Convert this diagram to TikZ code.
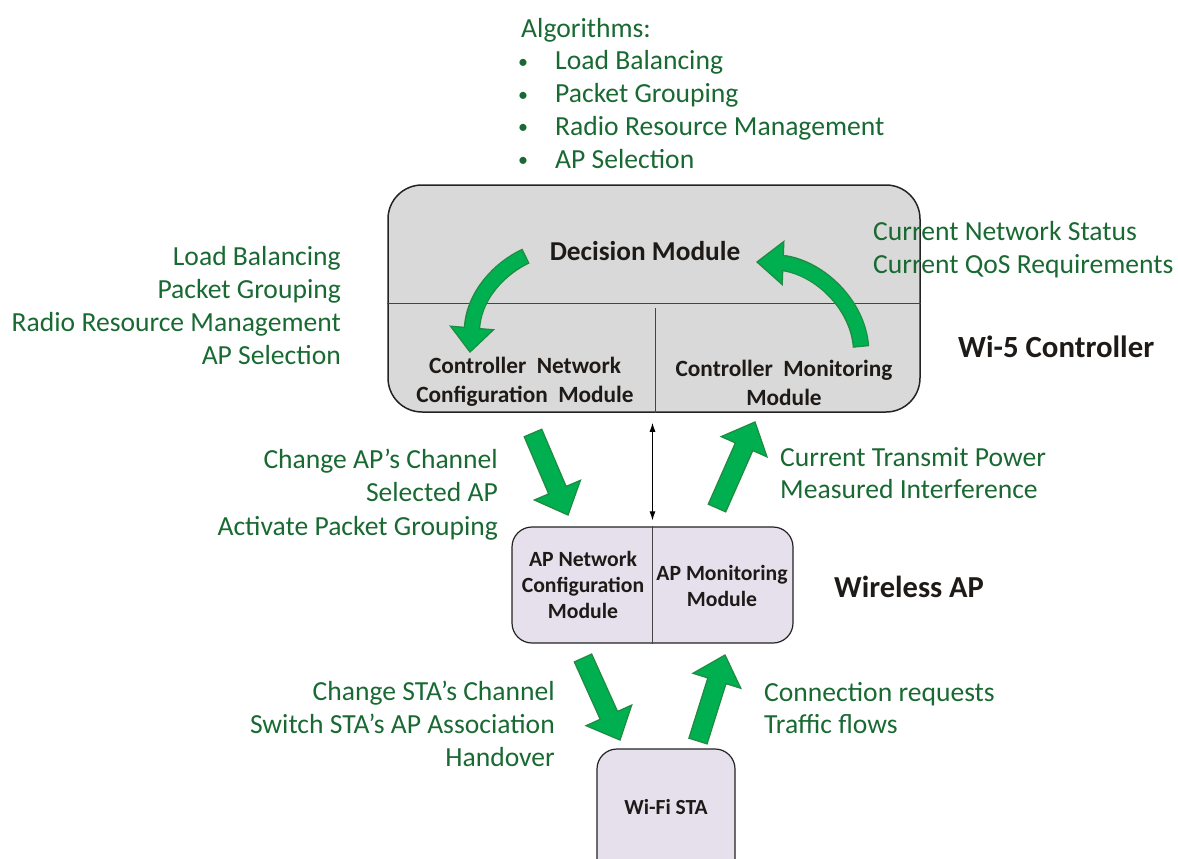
\documentclass[tikz,border=0pt]{standalone}
\usepackage{fontspec}
\setmainfont{Carlito}
\usepackage{tikz}
\usetikzlibrary{arrows, arrows.meta, positioning, calc}

\definecolor{txtgreen}{RGB}{25,105,50}
\definecolor{arrowgreen}{RGB}{0,176,80}
\definecolor{arrowedge}{RGB}{30,140,65}
\definecolor{ctrlgray}{RGB}{217,217,217}
\definecolor{aplilac}{RGB}{229,224,236}
\definecolor{boxline}{RGB}{35,35,35}
\definecolor{labelblack}{RGB}{30,26,23}

\tikzset{
  greentext/.style={text=txtgreen, font=\fontsize{27.6}{32}\selectfont, inner sep=0pt},
  modtext/.style={text=labelblack, inner sep=0pt, align=center},
  ctrlbox/.style={draw=boxline, line width=1.5pt, fill=ctrlgray, rounded corners=34pt, inner sep=0pt},
  apbox/.style={draw=boxline, line width=1.2pt, fill=aplilac, rounded corners=20pt, inner sep=0pt},
  divline/.style={draw=boxline!85, line width=1pt},
  greenblock/.style={fill=arrowgreen, draw=arrowedge, line width=1.3pt, line join=miter},
  linkarrow/.style={line width=1pt, {Latex[length=9pt,width=6pt]}-{Latex[length=9pt,width=6pt]}},
}

% straight block arrow: #1 tail, #2 tip
\newcommand{\blockarrow}[2]{%
  \filldraw[greenblock]
    ($#1!9.5pt!90:#2$) -- ($#2!28.62pt!-19.38:#1$) -- ($#2!36.8pt!-42.8:#1$)
    -- #2 -- ($#2!36.8pt!42.8:#1$) -- ($#2!28.62pt!19.38:#1$)
    -- ($#1!9.5pt!-90:#2$) -- cycle;
}

\begin{document}
\begin{tikzpicture}[x=1pt, y=-1pt]
\clip (0,0) rectangle (1178,859);

% Wi-5 controller
\node[ctrlbox, minimum width=532pt, minimum height=227pt] (ctrl) at (654,298.5) {};
\draw[divline] (ctrl.west |- 0,303) -- (ctrl.east |- 0,303);
\draw[divline] (655,308) -- (ctrl.south -| 655,0);
\node[modtext, anchor=base, font=\bfseries\fontsize{27.3}{30}\selectfont] (decision) at (645,260) {Decision Module};
\node[modtext, font=\bfseries\fontsize{23.3}{28.5}\selectfont] (ctrlcfg) at (525,382) {Controller~ Network\\Configuration~ Module};
\node[modtext, font=\bfseries\fontsize{23.3}{28.5}\selectfont] (ctrlmon) at (784,383) {Controller~ Monitoring\\Module};
\node[modtext, anchor=base west, font=\bfseries\fontsize{30.8}{34}\selectfont] (ctrlname) at (958,357) {Wi-5 Controller};

% curved arrows inside the controller
\coordinate (lhbase) at (472,328);
\coordinate (lhtip) at (470,352);
\draw[arrowedge, line width=16.5pt] (526,256) .. controls (500,268) and (474,295) .. (lhbase);
\filldraw[greenblock] ($(lhbase)!21.5pt!90:(lhtip)$) -- (lhtip) -- ($(lhbase)!21.5pt!-90:(lhtip)$) -- cycle;
\draw[arrowgreen, line width=13.8pt, shorten <=1.3pt, shorten >=-2pt] (526,256) .. controls (500,268) and (474,295) .. (lhbase);

\coordinate (rhbase) at (783,263);
\coordinate (rhtip) at (757,262);
\draw[arrowedge, line width=16.5pt] (861,347) .. controls (858,305) and (820,268) .. (rhbase);
\filldraw[greenblock] ($(rhbase)!21.5pt!90:(rhtip)$) -- (rhtip) -- ($(rhbase)!21.5pt!-90:(rhtip)$) -- cycle;
\draw[arrowgreen, line width=13.8pt, shorten <=1.3pt, shorten >=-2pt] (861,347) .. controls (858,305) and (820,268) .. (rhbase);

% wireless AP
\node[apbox, minimum width=281pt, minimum height=116pt] (ap) at (652.5,585) {};
\draw[divline] (ap.north) -- (ap.south);
\node[modtext, font=\bfseries\fontsize{21.7}{25.8}\selectfont] (apcfg) at (583,585) {AP Network\\Configuration\\Module};
\node[modtext, font=\bfseries\fontsize{21.7}{26}\selectfont] (apmon) at (722,586) {AP Monitoring\\Module};
\node[modtext, anchor=base west, font=\bfseries\fontsize{30.5}{34}\selectfont] (apname) at (834,597) {Wireless AP};

% Wi-Fi station
\node[apbox, minimum width=138pt, minimum height=131pt] (sta) at (666,814.5) {};
\node[modtext, anchor=base, font=\bfseries\fontsize{21.5}{25}\selectfont] (stalabel) at (666,814) {Wi-Fi STA};

% controller <-> AP
\draw[linkarrow, shorten <=10pt, shorten >=6pt] (ctrl.south -| ap.north) -- (ap.north);

% block arrows
\blockarrow{(533,433)}{(568,515)}
\blockarrow{(717,508)}{(755,422)}
\blockarrow{(583,658)}{(620,740)}
\blockarrow{(698,741)}{(725,655)}

% green texts
\node[greentext, anchor=base west] (algtitle) at (521,38) {Algorithms:};
\foreach \txt [count=\i from 0] in {Load Balancing, Packet Grouping, Radio Resource Management, AP Selection} {
  \node[greentext, anchor=base west] (algbul\i) at (518,{70+32.7*\i}) {\raisebox{1.5pt}{\fontsize{20}{20}\selectfont\textbullet}};
  \node[greentext, anchor=base west] (algitem\i) at (555,{70+32.7*\i}) {\txt};
}
\foreach \txt [count=\i from 0] in {Load Balancing, Packet Grouping, Radio Resource Management, AP Selection}
  \node[greentext, anchor=base east] (cfgalg\i) at (341,{265+33.3*\i}) {\txt};
\foreach \txt [count=\i from 0] in {Current Network Status, Current QoS Requirements}
  \node[greentext, anchor=base west] (status\i) at (873,{240+33*\i}) {\txt};
\foreach \txt [count=\i from 0] in {Change AP’s Channel, Selected AP, Activate Packet Grouping}
  \node[greentext, anchor=base east] (apcmd\i) at (498,{468+33.5*\i}) {\txt};
\foreach \txt [count=\i from 0] in {Current Transmit Power, Measured Interference}
  \node[greentext, anchor=base west] (apreport\i) at (780,{466+32*\i}) {\txt};
\foreach \txt [count=\i from 0] in {Change STA’s Channel, Switch STA’s AP Association, Handover}
  \node[greentext, anchor=base east] (stacmd\i) at (555,{700+33*\i}) {\txt};
\foreach \txt [count=\i from 0] in {Connection requests, Traffic flows}
  \node[greentext, anchor=base west] (stareport\i) at (764,{701+32.5*\i}) {\txt};

\end{tikzpicture}
\end{document}
